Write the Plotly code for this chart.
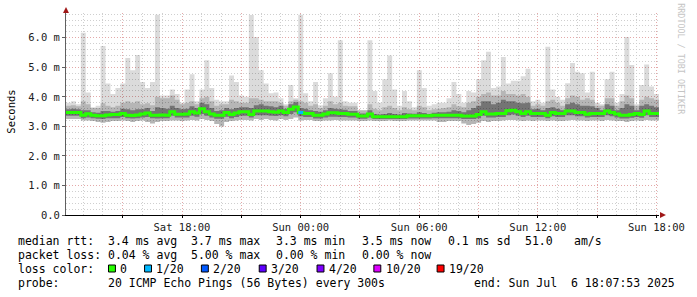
import pandas as pd
import plotly.graph_objects as go

# ---------------- data ----------------
start = pd.Timestamp("2025-07-05 12:07:53")
end = pd.Timestamp("2025-07-06 18:07:53")
step = "15min"

smoke_max = [3.80, 3.85, 3.75, 6.17, 4.15, 3.65, 3.70, 5.72, 4.45, 4.10,
             4.30, 4.45, 5.32, 4.90, 5.42, 4.50, 4.30, 4.50, 6.78, 4.05,
             4.05, 4.25, 4.10, 3.80, 4.25, 4.77, 3.85, 4.25, 5.24, 4.30,
             3.90, 3.85, 3.85, 4.72, 4.50, 4.05, 4.00, 6.77, 6.03, 4.90,
             4.45, 4.12, 4.15, 3.95, 3.75, 4.40, 3.95, 6.78, 4.12, 3.85,
             4.50, 3.72, 3.95, 4.80, 4.00, 5.92, 3.85, 3.80, 3.80, 3.55,
             3.55, 5.92, 4.20, 3.80, 4.60, 5.40, 4.25, 3.70, 4.20, 3.85,
             3.65, 4.90, 4.30, 3.70, 3.75, 3.80, 3.80, 3.95, 4.50, 4.10,
             3.80, 4.20, 4.15, 4.60, 5.24, 5.53, 4.30, 4.35, 5.35, 4.45,
             4.55, 4.55, 4.70, 4.95, 3.85, 3.90, 3.80, 5.70, 4.25, 4.00,
             3.90, 4.46, 5.15, 4.85, 4.80, 4.15, 4.85, 3.70, 3.75, 4.60,
             4.85, 3.80, 4.10, 6.03, 5.08, 3.75, 4.40, 5.10, 4.35, 4.10]

smoke_hi = [3.70, 3.72, 3.68, 3.85, 3.75, 3.62, 3.62, 3.78, 3.70, 3.65,
            3.70, 3.80, 3.85, 3.80, 3.85, 3.75, 3.78, 3.72, 4.00, 3.95,
            3.95, 4.05, 3.90, 3.75, 3.80, 3.85, 3.75, 3.95, 4.00, 3.85,
            3.70, 3.75, 3.75, 3.90, 3.85, 3.80, 3.80, 3.95, 3.95, 3.90,
            3.85, 3.85, 3.85, 3.80, 3.70, 3.85, 3.90, 3.85, 3.80, 3.70,
            3.75, 3.62, 3.70, 3.85, 3.75, 3.80, 3.70, 3.68, 3.68, 3.55,
            3.55, 3.75, 3.60, 3.55, 3.65, 3.70, 3.62, 3.55, 3.65, 3.58,
            3.55, 3.70, 3.65, 3.55, 3.58, 3.60, 3.62, 3.65, 3.75, 3.68,
            3.65, 3.80, 3.85, 4.00, 4.10, 4.15, 4.05, 4.05, 4.20, 4.10,
            4.10, 4.05, 4.10, 4.00, 3.70, 3.75, 3.70, 3.85, 3.90, 3.80,
            3.70, 3.95, 4.05, 4.00, 3.90, 3.95, 3.90, 3.80, 3.70, 3.95,
            3.95, 3.70, 3.85, 4.05, 3.95, 3.70, 3.90, 4.00, 3.95, 3.90]

smoke_core = [3.58, 3.60, 3.58, 3.55, 3.55, 3.48, 3.46, 3.52, 3.52, 3.50,
              3.52, 3.60, 3.58, 3.55, 3.58, 3.58, 3.62, 3.52, 3.65, 3.62,
              3.60, 3.70, 3.62, 3.58, 3.60, 3.68, 3.62, 3.80, 3.75, 3.62,
              3.52, 3.55, 3.62, 3.58, 3.62, 3.65, 3.65, 3.62, 3.72, 3.75,
              3.70, 3.68, 3.65, 3.70, 3.60, 3.75, 3.82, 3.62, 3.60, 3.55,
              3.52, 3.50, 3.55, 3.62, 3.60, 3.58, 3.56, 3.52, 3.52, 3.44,
              3.44, 3.55, 3.42, 3.40, 3.42, 3.45, 3.42, 3.40, 3.45, 3.44,
              3.43, 3.48, 3.45, 3.42, 3.46, 3.48, 3.48, 3.50, 3.55, 3.52,
              3.48, 3.55, 3.62, 3.70, 3.85, 3.85, 3.75, 3.80, 3.90, 3.85,
              3.85, 3.80, 3.78, 3.80, 3.58, 3.60, 3.55, 3.62, 3.65, 3.60,
              3.55, 3.75, 3.80, 3.75, 3.70, 3.70, 3.68, 3.62, 3.55, 3.75,
              3.70, 3.55, 3.62, 3.75, 3.70, 3.55, 3.70, 3.75, 3.70, 3.65]

median_rtt = [3.47, 3.47, 3.47, 3.38, 3.43, 3.38, 3.36, 3.36, 3.39, 3.40,
              3.40, 3.44, 3.38, 3.37, 3.39, 3.42, 3.45, 3.38, 3.38, 3.39,
              3.38, 3.50, 3.41, 3.41, 3.42, 3.50, 3.45, 3.60, 3.50, 3.42,
              3.38, 3.38, 3.47, 3.40, 3.45, 3.50, 3.50, 3.40, 3.52, 3.52,
              3.52, 3.50, 3.48, 3.52, 3.47, 3.58, 3.66, 3.47, 3.44, 3.44,
              3.38, 3.38, 3.42, 3.46, 3.46, 3.44, 3.44, 3.41, 3.41, 3.35,
              3.35, 3.42, 3.33, 3.33, 3.33, 3.33, 3.33, 3.33, 3.33, 3.36,
              3.36, 3.36, 3.36, 3.36, 3.38, 3.38, 3.38, 3.38, 3.38, 3.38,
              3.35, 3.35, 3.35, 3.40, 3.50, 3.42, 3.42, 3.44, 3.44, 3.53,
              3.55, 3.50, 3.44, 3.50, 3.44, 3.44, 3.44, 3.38, 3.47, 3.44,
              3.44, 3.52, 3.52, 3.47, 3.47, 3.41, 3.44, 3.44, 3.44, 3.52,
              3.47, 3.42, 3.38, 3.38, 3.40, 3.44, 3.40, 3.52, 3.44, 3.44]

smoke_low = [3.36, 3.36, 3.36, 3.28, 3.30, 3.28, 3.26, 3.25, 3.28, 3.28,
             3.28, 3.32, 3.28, 3.27, 3.28, 3.30, 3.32, 3.28, 3.27, 3.28,
             3.28, 3.36, 3.30, 3.30, 3.30, 3.36, 3.33, 3.42, 3.36, 3.30,
             3.26, 3.26, 3.33, 3.28, 3.32, 3.36, 3.36, 3.30, 3.38, 3.38,
             3.38, 3.36, 3.35, 3.38, 3.34, 3.42, 3.48, 3.34, 3.32, 3.32,
             3.27, 3.27, 3.30, 3.33, 3.33, 3.32, 3.32, 3.30, 3.30, 3.26,
             3.26, 3.30, 3.25, 3.25, 3.25, 3.25, 3.25, 3.25, 3.25, 3.27,
             3.27, 3.27, 3.27, 3.27, 3.28, 3.28, 3.28, 3.28, 3.28, 3.28,
             3.25, 3.25, 3.25, 3.28, 3.36, 3.30, 3.30, 3.32, 3.32, 3.38,
             3.40, 3.36, 3.32, 3.36, 3.32, 3.32, 3.32, 3.28, 3.34, 3.32,
             3.32, 3.38, 3.38, 3.34, 3.34, 3.30, 3.32, 3.32, 3.32, 3.38,
             3.34, 3.30, 3.27, 3.27, 3.29, 3.32, 3.29, 3.38, 3.32, 3.32]

smoke_min = [3.25, 3.25, 3.25, 3.20, 3.20, 3.18, 3.15, 3.12, 3.15, 3.18,
             3.18, 3.20, 3.18, 3.15, 3.18, 3.20, 3.15, 3.10, 3.15, 3.18,
             3.18, 3.20, 3.20, 3.18, 3.20, 3.22, 3.20, 3.25, 3.22, 3.18,
             3.08, 3.00, 3.15, 3.18, 3.20, 3.22, 3.22, 3.20, 3.25, 3.22,
             3.25, 3.22, 3.20, 3.25, 3.22, 3.25, 3.30, 3.20, 3.22, 3.22,
             3.18, 3.18, 3.20, 3.20, 3.22, 3.20, 3.20, 3.20, 3.20, 3.18,
             3.18, 3.20, 3.18, 3.18, 3.18, 3.20, 3.18, 3.18, 3.18, 3.20,
             3.20, 3.20, 3.20, 3.20, 3.20, 3.15, 3.15, 3.18, 3.18, 3.18,
             3.10, 3.05, 3.08, 3.12, 3.18, 3.15, 3.18, 3.18, 3.20, 3.22,
             3.22, 3.20, 3.18, 3.20, 3.18, 3.20, 3.20, 3.18, 3.20, 3.18,
             3.18, 3.20, 3.22, 3.20, 3.20, 3.18, 3.20, 3.20, 3.18, 3.22,
             3.20, 3.18, 3.18, 3.15, 3.18, 3.20, 3.18, 3.22, 3.20, 3.20]

loss_count = [0] * 47 + [1] + [0] * 72   # pings lost out of 20 per step

loss_levels = ["0", "1/20", "2/20", "3/20", "4/20", "10/20", "19/20"]
loss_thresholds = [0, 1, 2, 3, 4, 10, 19]
loss_colors = ["#26ff00", "#00b8ff", "#0059ff", "#5e00ff", "#7e00ff", "#dd00ff", "#ff0000"]

y_ticks = [0, 1, 2, 3, 4, 5, 6]
y_ticktext = ["0.0", "1.0 m", "2.0 m", "3.0 m", "4.0 m", "5.0 m", "6.0 m"]
x_ticks = ["2025-07-05 15:00", "2025-07-05 18:00", "2025-07-05 21:00", "2025-07-06 00:00",
           "2025-07-06 03:00", "2025-07-06 06:00", "2025-07-06 09:00", "2025-07-06 12:00",
           "2025-07-06 15:00", "2025-07-06 18:00"]
x_ticktext = ["", "Sat 18:00", "", "Sun 00:00", "", "Sun 06:00", "", "Sun 12:00", "", "Sun 18:00"]

rtt_label = "median rtt:"
rtt_stats = ["3.4 ms avg", "3.7 ms max", "3.3 ms min", "3.5 ms now", "0.1 ms sd", "51.0", "am/s"]
loss_label = "packet loss:"
loss_stats = ["0.04 % avg", "5.00 % max", "0.00 % min", "0.00 % now"]
probe_text = "20 ICMP Echo Pings (56 Bytes) every 300s"
end_text = "end: Sun Jul  6 18:07:53 2025"

# ---------------- figure ----------------
N = len(median_rtt)
edges = pd.date_range(start, periods=N + 1, freq=step)


def stepped(v):
    return list(v) + [v[-1]]


MONO = "DejaVu Sans Mono"
fig = go.Figure()


def band(lo, hi, color):
    fig.add_trace(go.Scatter(x=edges, y=stepped(lo), mode="lines", line=dict(width=0, shape="hv"),
                             hoverinfo="skip", showlegend=False))
    fig.add_trace(go.Scatter(x=edges, y=stepped(hi), mode="lines", line=dict(width=0, shape="hv"),
                             fill="tonexty", fillcolor=color, hoverinfo="skip", showlegend=False))


# translucent smoke so the dotted grid shows through, as in rrdtool
band(smoke_min, smoke_max, "rgba(0,0,0,0.14)")
band(smoke_min, smoke_hi, "rgba(0,0,0,0.17)")
band(smoke_low, smoke_core, "rgba(0,0,0,0.36)")

fig.add_trace(go.Scatter(x=edges, y=stepped(median_rtt), mode="lines",
                         line=dict(color=loss_colors[0], width=3, shape="hv"),
                         showlegend=False))

# loss-coloured median segments
for i, l in enumerate(loss_count):
    if l > 0:
        k = max(j for j, c in enumerate(loss_thresholds) if c <= l)
        fig.add_trace(go.Scatter(x=[edges[i], edges[i + 1]], y=[median_rtt[i], median_rtt[i]],
                                 mode="lines", line=dict(color=loss_colors[k], width=3),
                                 showlegend=False))

L, T, W, H = 66, 13, 600, 202


def px(xp):
    return (xp - L) / W


def py(yp):
    return (T + H - yp) / H


annotations = []


def txt(x, y, s, size=11.5, color="#000000", **kw):
    annotations.append(dict(x=px(x), y=py(y), xref="paper", yref="paper", text=s, showarrow=False,
                            xanchor=kw.pop("xanchor", "left"), yanchor="middle", borderpad=0,
                            font=dict(family=MONO, size=size, color=color), **kw))


# legend block
txt(16, 241, rtt_label)
for xpos, s in zip([107, 191, 277.5, 364.5, 451, 529.5, 578.5], rtt_stats):
    txt(xpos, 241, s)
txt(16, 255, loss_label)
for xpos, s in zip([107, 191, 277.5, 364.5], loss_stats):
    txt(xpos, 255, s)
txt(16, 268.5, "loss color:")
box_x = [109, 145.5, 203, 261.5, 320, 377.5, 441.5]
shapes = []
for bx, lab, col in zip(box_x, loss_levels, loss_colors):
    shapes.append(dict(type="rect", xref="paper", yref="paper", x0=px(bx), x1=px(bx + 7),
                       y0=py(272), y1=py(265), fillcolor=col, line=dict(color="#000000", width=1)))
    txt(bx + 11, 268.5, lab)
txt(16, 282.5, "probe:")
txt(107, 282.5, probe_text)
txt(478, 282.5, end_text)

# axis title and watermark
txt(10, 112, "Seconds", size=10.5, textangle=-90, xanchor="center")
txt(688, 59, "RRDTOOL / TOBI OETIKER", size=8.4, color="#c4c4c4", textangle=90, xanchor="center")

# axis arrows
shapes.append(dict(type="path", xref="paper", yref="paper",
                   path=f"M {px(63)} {py(13)} L {px(69)} {py(13)} L {px(66)} {py(7)} Z",
                   fillcolor="#a01818", line=dict(color="#a01818", width=0)))
shapes.append(dict(type="path", xref="paper", yref="paper",
                   path=f"M {px(667)} {py(212)} L {px(667)} {py(218)} L {px(673)} {py(215)} Z",
                   fillcolor="#a01818", line=dict(color="#a01818", width=0)))

fig.update_layout(
    width=697, height=297,
    margin=dict(l=L, r=697 - L - W, t=T, b=297 - T - H),
    paper_bgcolor="#ffffff", plot_bgcolor="#ffffff",
    showlegend=False,
    annotations=annotations, shapes=shapes,
    xaxis=dict(range=[start, end], tickmode="array", tickvals=x_ticks, ticktext=x_ticktext,
               showgrid=True, gridcolor="#e4a8a8", griddash="1px,2px", gridwidth=1,
               showline=True, linecolor="#000000", linewidth=1,
               ticks="outside", ticklen=2, tickcolor="#000000",
               tickfont=dict(family=MONO, size=10.5, color="#202020"),
               minor=dict(dtick=3600000, tick0="2025-07-05 00:00", showgrid=True,
                          gridcolor="#cfcfcf", griddash="1px,2px", ticks=""),
               zeroline=False, fixedrange=True),
    yaxis=dict(range=[0, 6.84], tickmode="array", tickvals=y_ticks, ticktext=y_ticktext,
               showgrid=True, gridcolor="#e4a8a8", griddash="1px,2px", gridwidth=1,
               showline=True, linecolor="#606060", linewidth=1,
               ticks="outside", ticklen=3, tickcolor="#606060",
               tickfont=dict(family=MONO, size=10.5, color="#202020"),
               minor=dict(dtick=0.2, tick0=0, showgrid=True, gridcolor="#cfcfcf",
                          griddash="1px,2px", ticks=""),
               zeroline=False, fixedrange=True),
)

fig.write_html("out.html")
